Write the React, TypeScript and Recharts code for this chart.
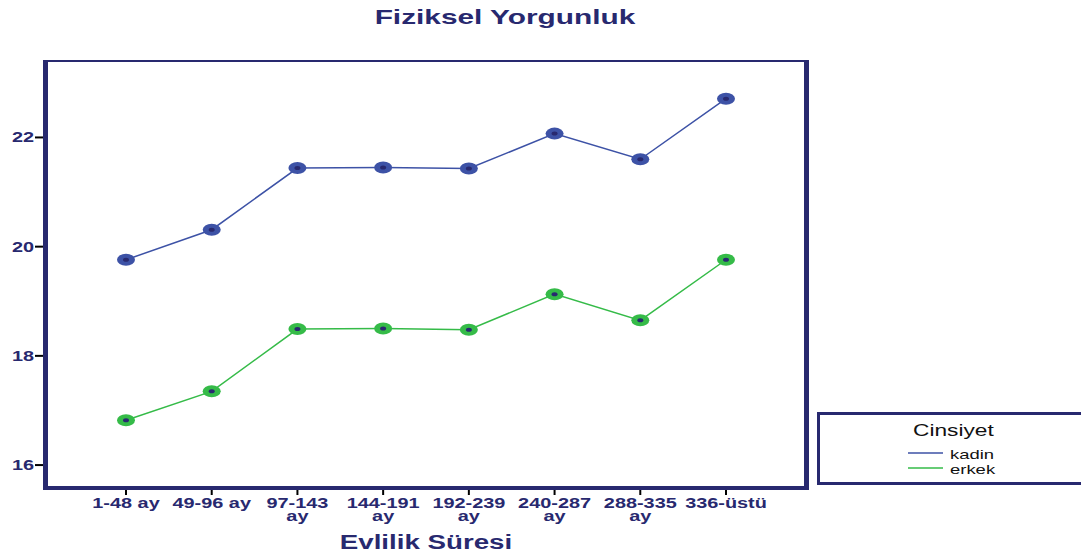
import { LineChart, Line, XAxis, YAxis } from 'recharts'

const categories = ['1-48 ay', '49-96 ay', '97-143\nay', '144-191\nay', '192-239\nay', '240-287\nay', '288-335\nay', '336-üstü']
const kadin = [19.76, 20.31, 21.44, 21.45, 21.43, 22.07, 21.6, 22.71]
const erkek = [16.82, 17.35, 18.49, 18.5, 18.48, 19.13, 18.65, 19.76]
const yTicks = [16, 18, 20, 22]

const NAVY = '#28296f'
const BLUE = '#3d52a6'
const GREEN = '#35bb48'
const SX = 1.42
const FONT = '"Liberation Sans", Arial, sans-serif'

const data = categories.map((c, i) => ({ cat: c, kadin: kadin[i], erkek: erkek[i] }))

function makeDot(color: string) {
  return (props: any) => {
    const { cx, cy, index } = props
    if (cx == null || cy == null) return null
    return (
      <g key={`d-${color}-${index}`}>
        <ellipse cx={cx} cy={cy} rx={9} ry={6} fill={color} />
        <ellipse cx={cx} cy={cy} rx={3} ry={2} fill={NAVY} />
      </g>
    )
  }
}

function XTick({ x, y, payload }: any) {
  const lines = String(payload.value).split('\n')
  return (
    <g transform={`translate(${x},${y}) scale(${SX},1)`}>
      <text textAnchor="middle" fill={NAVY} fontFamily={FONT} fontWeight="bold" fontSize={14}>
        {lines.map((l, i) => (
          <tspan key={i} x={0} dy={i === 0 ? 11 : 13}>
            {l}
          </tspan>
        ))}
      </text>
    </g>
  )
}

function YTick({ x, y, payload }: any) {
  return (
    <g transform={`translate(${x},${y}) scale(${SX},1)`}>
      <text textAnchor="end" dy={5} fill={NAVY} fontFamily={FONT} fontWeight="bold" fontSize={14}>
        {payload.value}
      </text>
    </g>
  )
}

function LegendBox() {
  return (
    <div
      style={{
        position: 'absolute',
        left: 817,
        top: 412,
        width: 264,
        height: 67,
        border: `3px solid ${NAVY}`,
        background: '#fff',
      }}
    >
      <svg width={264} height={67} style={{ position: 'absolute', left: 0, top: 0 }}>
        <g transform={`translate(93,21) scale(${SX},1)`}>
          <text fontSize={16} fill="#111" fontFamily={FONT}>Cinsiyet</text>
        </g>
        <line x1={88} x2={123} y1={38} y2={38} stroke={BLUE} strokeWidth={1.5} />
        <line x1={88} x2={123} y1={53} y2={53} stroke={GREEN} strokeWidth={1.5} />
        <g transform={`translate(130,44) scale(${SX},1)`}>
          <text fontSize={13} fill="#111" fontFamily={FONT}>kadin</text>
        </g>
        <g transform={`translate(130,59) scale(${SX},1)`}>
          <text fontSize={13} fill="#111" fontFamily={FONT}>erkek</text>
        </g>
      </svg>
    </div>
  )
}

export default function App() {
  return (
    <div style={{ position: 'relative', width: 1089, height: 558, margin: -8, background: '#fff' }}>
      <div
        style={{
          position: 'absolute',
          left: 505,
          top: 5,
          transform: `translateX(-50%) scaleX(${SX})`,
          fontFamily: FONT,
          fontWeight: 'bold',
          fontSize: 21,
          color: NAVY,
          whiteSpace: 'nowrap',
        }}
      >
        Fiziksel Yorgunluk
      </div>
      <LineChart
        width={1089}
        height={558}
        data={data}
        margin={{ top: 59, right: 281, bottom: 20, left: 5 }}
      >
        <XAxis
          dataKey="cat"
          xAxisId="bottom"
          interval={0}
          height={50}
          padding={{ left: 81, right: 80 }}
          axisLine={{ stroke: NAVY, strokeWidth: 4 }}
          tickLine={{ stroke: '#000', strokeWidth: 2 }}
          tickSize={7}
          tick={<XTick />}
        />
        <XAxis
          dataKey="cat"
          xAxisId="top"
          orientation="top"
          height={2}
          padding={{ left: 81, right: 80 }}
          axisLine={{ stroke: NAVY, strokeWidth: 2 }}
          tick={false}
          tickLine={false}
        />
        <YAxis
          yAxisId="left"
          width={40}
          domain={[15.58, 23.4]}
          allowDataOverflow
          ticks={yTicks}
          axisLine={{ stroke: NAVY, strokeWidth: 4 }}
          tickLine={{ stroke: '#000', strokeWidth: 2 }}
          tickSize={10}
          tickMargin={1}
          tick={<YTick />}
        />
        <YAxis
          yAxisId="right"
          orientation="right"
          width={2}
          domain={[15.58, 23.4]}
          allowDataOverflow
          axisLine={{ stroke: NAVY, strokeWidth: 4 }}
          tick={false}
          tickLine={false}
        />
        <Line
          xAxisId="bottom"
          yAxisId="left"
          dataKey="kadin"
          stroke={BLUE}
          strokeWidth={1.5}
          dot={makeDot(BLUE)}
          activeDot={false}
          isAnimationActive={false}
        />
        <Line
          xAxisId="bottom"
          yAxisId="left"
          dataKey="erkek"
          stroke={GREEN}
          strokeWidth={1.5}
          dot={makeDot(GREEN)}
          activeDot={false}
          isAnimationActive={false}
        />
      </LineChart>
      {/* plot frame, drawn over the axis lines so the edges keep their weight */}
      <div
        style={{
          position: 'absolute',
          left: 43,
          top: 60,
          width: 766,
          height: 430,
          boxSizing: 'border-box',
          borderLeft: `5px solid ${NAVY}`,
          borderRight: `5px solid ${NAVY}`,
          borderTop: `2px solid ${NAVY}`,
          borderBottom: `4px solid ${NAVY}`,
          pointerEvents: 'none',
        }}
      />
      <LegendBox />
      <div
        style={{
          position: 'absolute',
          left: 426,
          top: 531,
          transform: `translateX(-50%) scaleX(${SX})`,
          fontFamily: FONT,
          fontWeight: 'bold',
          fontSize: 19.5,
          color: NAVY,
          whiteSpace: 'nowrap',
        }}
      >
        Evlilik Süresi
      </div>
    </div>
  )
}
